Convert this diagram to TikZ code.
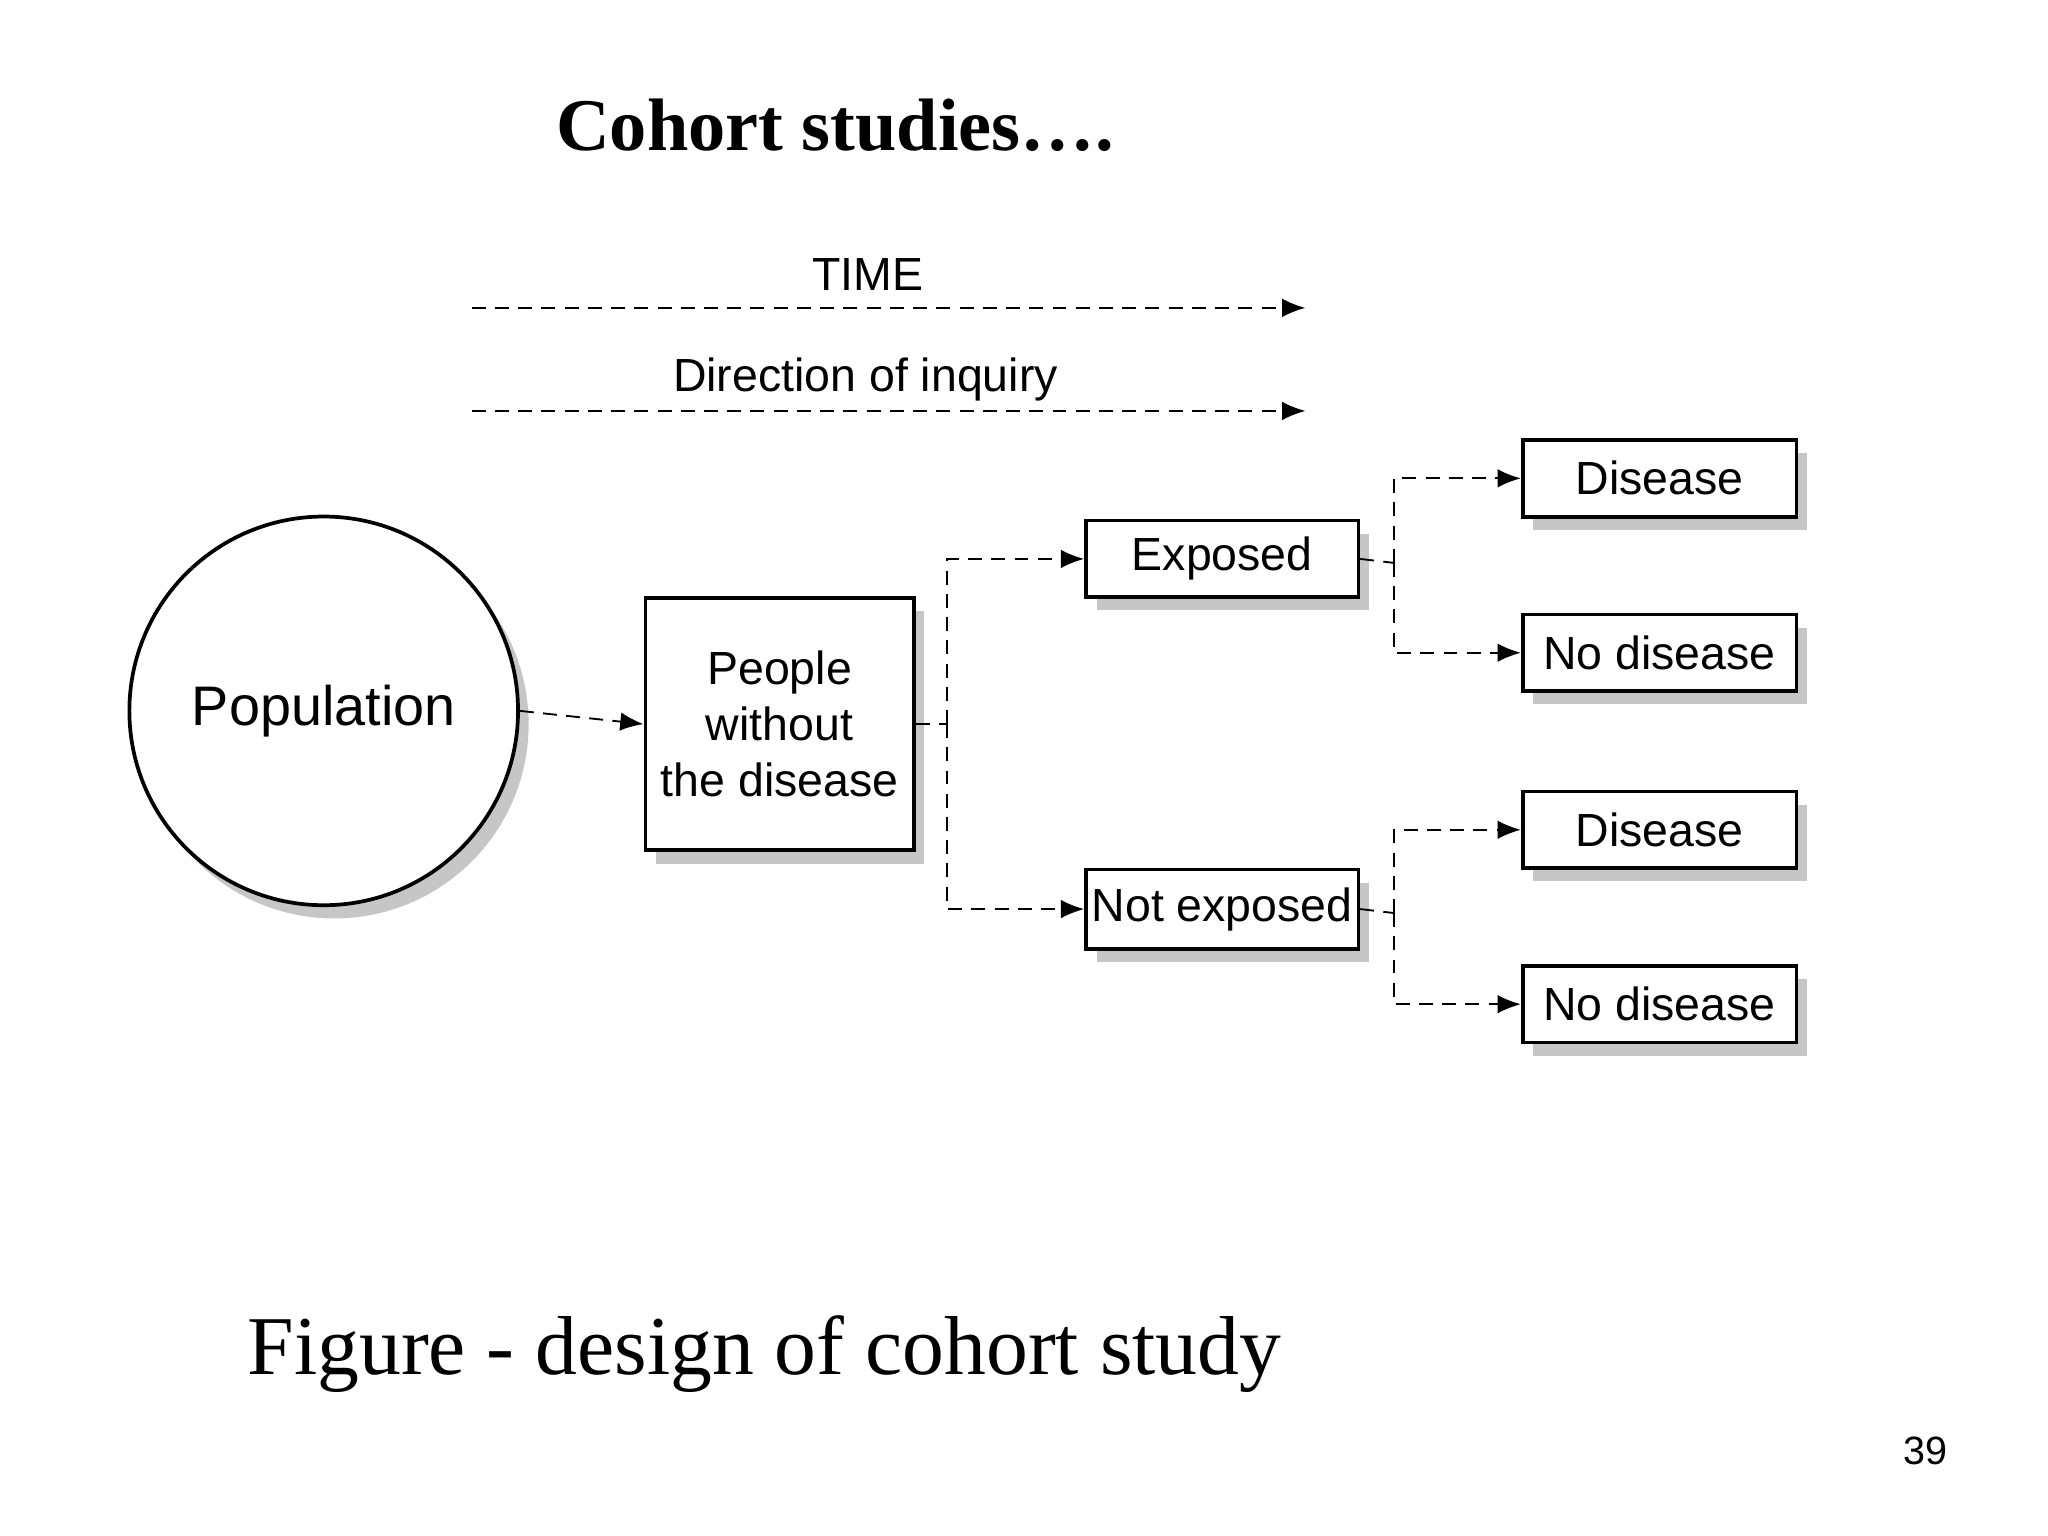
\documentclass[tikz,border=0pt]{standalone}
\usepackage{fontspec}
\setmainfont{Liberation Serif}
\newfontfamily\diagfont{Liberation Sans}
\usetikzlibrary{shadows,arrows.meta}
\tikzset{
  boxshadow/.style={drop shadow={shadow xshift=0.08cm,shadow yshift=-0.1cm,opacity=1,fill=gray!45}},
  stage/.style={draw,thick,fill=white,boxshadow,font=\diagfont\fontsize{10}{12}\selectfont,
    inner sep=0pt,align=center},
  result/.style={stage,minimum width=2.07cm,minimum height=0.58cm},
  flow/.style={densely dashed,-{Latex[length=5pt,width=4pt]}},
  link/.style={densely dashed}
}
\begin{document}
\begin{tikzpicture}[x=0.01cm,y=-0.01cm]
\useasboundingbox (0,0) rectangle (1550,1162);
%%% headings
\node[font=\bfseries\fontsize{16}{18}\selectfont] (title) at (632,95) {Cohort studies….};
\node[font=\diagfont\fontsize{10}{12}\selectfont] (time) at (657,208) {TIME};
\node[font=\diagfont\fontsize{10}{12}\selectfont] (inquiry) at (655,287) {Direction of inquiry};
\coordinate (t1) at (357,233); \coordinate (t2) at (988,233);
\coordinate (d1) at (357,311); \coordinate (d2) at (988,311);
\draw[flow] (t1) -- (t2);
\draw[flow] (d1) -- (d2);
%%% the cohort
\node[stage,circle,minimum size=2.94cm,font=\diagfont\fontsize{12}{14}\selectfont] (pop) at (245,538) {Population};
\node[stage,minimum width=2.03cm,minimum height=1.91cm] (people) at (590,548) {People\\without\\the disease};
\node[stage,minimum width=2.06cm,minimum height=0.58cm] (exp) at (925,423) {Exposed};
\node[stage,minimum width=2.06cm,minimum height=0.6cm] (nexp) at (925,688) {Not exposed};
\node[result] (d1a) at (1256,362) {Disease};
\node[result] (n1a) at (1256,494) {No disease};
\node[result] (d2a) at (1256,628) {Disease};
\node[result] (n2a) at (1256,760) {No disease};
%%% branches
\coordinate (s0) at (717,548);
\coordinate (s1) at (1055,426);
\coordinate (s2) at (1055,691);
\draw[flow] (pop.east) -- (people.west);
\draw[link] (people.east) -- (s0);
\draw[flow] (s0) |- (exp.west);
\draw[flow] (s0) |- (nexp.west);
\draw[link] (exp.east) -- (s1);
\draw[flow] (s1) |- (d1a.west);
\draw[flow] (s1) |- (n1a.west);
\draw[link] (nexp.east) -- (s2);
\draw[flow] (s2) |- (d2a.west);
\draw[flow] (s2) |- (n2a.west);
%%% caption
\node[anchor=base west,font=\fontsize{18}{20}\selectfont] (cap) at (175,1040) {Figure - design of cohort study};
\node[font=\diagfont\fontsize{8.5}{10}\selectfont] (page) at (1457,1098) {39};
\end{tikzpicture}
\end{document}
